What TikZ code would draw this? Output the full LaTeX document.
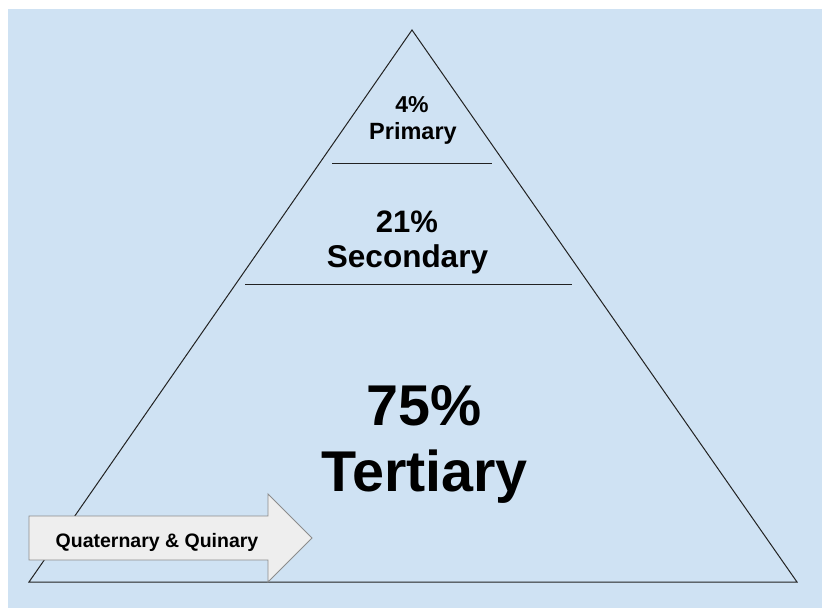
\documentclass[tikz,border=0pt]{standalone}
\usepackage{fontspec}
\setmainfont{Liberation Sans}
\usetikzlibrary{positioning}
\definecolor{bgblue}{HTML}{CFE2F3}
\definecolor{edgegray}{HTML}{222222}
\definecolor{arrowfill}{HTML}{EEEEEE}
\definecolor{arrowedge}{HTML}{8C8C8C}

\tikzset{
  edge/.style={draw=edgegray, line width=1pt},
  lbl/.style={anchor=base, inner sep=0pt, font=\bfseries},
}

\begin{document}
\begin{tikzpicture}[x=1pt,y=-1pt]
\useasboundingbox (0,0) rectangle (822,608);
% Background
\fill[bgblue] (8,9) rectangle (822,608);
% Pyramid
\coordinate (apex) at (412,30);
\coordinate (bl) at (29,582);
\coordinate (br) at (797,582);
\draw[edge, line join=miter] (apex) -- (bl) -- (br) -- cycle;
% Separators
\coordinate (s1l) at (332,163);
\coordinate (s1r) at (492,163);
\coordinate (s2l) at (245,284);
\coordinate (s2r) at (572,284);
\draw[edge] (s1l) -- (s1r);
\draw[edge] (s2l) -- (s2r);
% Labels
\node[lbl, font=\bfseries\fontsize{23}{27}\selectfont] (pct1) at (412,112) {4\%};
\node[lbl, font=\bfseries\fontsize{23.5}{27}\selectfont] (prim) at (413,139) {Primary};
\node[lbl, font=\bfseries\fontsize{31}{36}\selectfont] (pct2) at (407,232) {21\%};
\node[lbl, font=\bfseries\fontsize{31.5}{36}\selectfont] (sec) at (407.5,267) {Secondary};
\node[lbl, font=\bfseries\fontsize{57.5}{66}\selectfont] (pct3) at (424.5,425) {75\%};
\node[lbl, font=\bfseries\fontsize{57.5}{66}\selectfont] (tert) at (424.5,491) {Tertiary};
% Quaternary arrow
\draw[draw=arrowedge, fill=arrowfill, line width=0.9pt, line join=miter]
  (29,516) -- (268,516) -- (268,494) -- (312,538) -- (268,582) -- (268,560) -- (29,560) -- cycle;
\node[lbl, font=\bfseries\fontsize{19.5}{23}\selectfont] (quat) at (157,547) {Quaternary \& Quinary};
\end{tikzpicture}
\end{document}
